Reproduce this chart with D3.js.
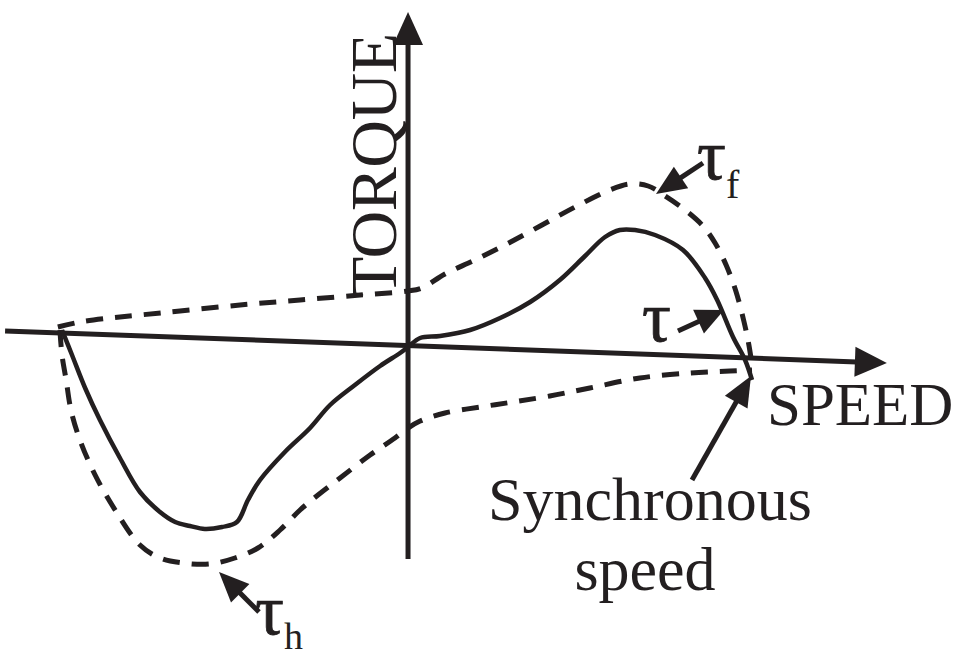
<!DOCTYPE html>
<html>
<head>
<meta charset="utf-8">
<script src="https://cdn.jsdelivr.net/npm/d3@7"></script>
<style>
  html, body { margin: 0; padding: 0; background: #fff; }
  svg { display: block; }
  text { font-family: "Liberation Serif", "Times New Roman", serif; fill: #231f20; }
</style>
</head>
<body>
<div class="chart"></div>
<script>
const WIDTH = 960;
const HEIGHT = 658;
const INK = '#231f20';

// speed: -1 .. 1 (1 = synchronous speed), torque in arbitrary units
const tauSpeed = [-1.0, -0.971, -0.933, -0.89, -0.832, -0.774, -0.716, -0.672, -0.629, -0.586, -0.536, -0.493,
    -0.461, -0.426, -0.354, -0.281, -0.223, -0.151, -0.078, -0.02, 0.003, 0.038, 0.096, 0.183, 0.27, 0.357,
    0.443, 0.516, 0.574, 0.617, 0.661, 0.719, 0.8, 0.864, 0.899, 0.945, 0.98, 1.0];
const tauTorque = [0.095, -0.03, -0.195, -0.355, -0.545, -0.715, -0.815, -0.865, -0.885, -0.9, -0.89, -0.865,
    -0.755, -0.655, -0.515, -0.395, -0.28, -0.18, -0.085, -0.02, 0.01, 0.055, 0.065, 0.095, 0.155, 0.235,
    0.345, 0.465, 0.56, 0.595, 0.595, 0.57, 0.495, 0.355, 0.245, 0.06, -0.055, -0.155];

const tauFSpeed = [-1.012, -0.948, -0.861, -0.774, -0.658, -0.484, -0.31, -0.136, 0.003, 0.043, 0.11, 0.197,
    0.284, 0.386, 0.487, 0.588, 0.646, 0.699, 0.748, 0.806, 0.858, 0.893, 0.925, 0.954, 0.977, 0.991, 1.0];
const tauFTorque = [0.11, 0.135, 0.155, 0.17, 0.19, 0.22, 0.245, 0.27, 0.29, 0.305, 0.375, 0.445,
    0.52, 0.615, 0.71, 0.795, 0.825, 0.815, 0.765, 0.695, 0.615, 0.53, 0.42, 0.285, 0.135, 0.02, -0.08];

const tauHSpeed = [-1.006, -1.0, -0.988, -0.974, -0.948, -0.904, -0.846, -0.774, -0.716, -0.649, -0.571, -0.499,
    -0.432, -0.368, -0.31, -0.258, -0.194, -0.107, -0.035, 0.003, 0.038, 0.11, 0.212, 0.307, 0.414, 0.53,
    0.675, 0.82, 0.936, 1.0];
const tauHTorque = [0.095, -0.03, -0.155, -0.305, -0.455, -0.63, -0.805, -0.98, -1.045, -1.07, -1.075, -1.045,
    -0.995, -0.905, -0.805, -0.73, -0.645, -0.53, -0.445, -0.395, -0.36, -0.32, -0.29, -0.265, -0.235, -0.195,
    -0.145, -0.12, -0.11, -0.105];

// the drawn speed axis is slightly tilted
const speedAxisSpeed = [-1.165, 1.391];
const speedAxisTorque = [0.09, -0.07];
const torqueAxisSpeed = [0.003, 0.003];
const torqueAxisTorque = [-1.05, 1.685];

var xScale = d3.scaleLinear().domain([-1, 1]).range([62, 752]);
var yScale = d3.scaleLinear().domain([-1, 1]).range([549, 149]);

var svg = d3.select('.chart').append('svg')
    .attr('width', WIDTH)
    .attr('height', HEIGHT);

function pts(xs, ys) {
    return xs.map(function (s, i) { return [s, ys[i]]; });
}

var line = d3.line()
    .x(function (d) { return xScale(d[0]); })
    .y(function (d) { return yScale(d[1]); })
    .curve(d3.curveCatmullRom.alpha(0.5));

// arrow head as a triangle, tip at (x2, y2)
function arrow(g, x1, y1, x2, y2, len, half, width) {
    var dx = x2 - x1, dy = y2 - y1;
    var l = Math.sqrt(dx * dx + dy * dy);
    var ux = dx / l, uy = dy / l;
    var bx = x2 - ux * len, by = y2 - uy * len;
    g.append('line')
        .attr('x1', x1).attr('y1', y1)
        .attr('x2', bx + ux * 2).attr('y2', by + uy * 2)
        .attr('stroke', INK)
        .attr('stroke-width', width);
    g.append('path')
        .attr('d', 'M' + x2 + ',' + y2 +
            'L' + (bx - uy * half) + ',' + (by + ux * half) +
            'L' + (bx + uy * half) + ',' + (by - ux * half) + 'Z')
        .attr('fill', INK);
}

// axes
var axesG = svg.append('g');
var sa = pts(speedAxisSpeed, speedAxisTorque);
var ta = pts(torqueAxisSpeed, torqueAxisTorque);
arrow(axesG, xScale(sa[0][0]), yScale(sa[0][1]), xScale(sa[1][0]), yScale(sa[1][1]), 32, 15, 5);
arrow(axesG, xScale(ta[0][0]), yScale(ta[0][1]), xScale(ta[1][0]), yScale(ta[1][1]), 33, 15, 5);

// curves
var curvesG = svg.append('g').attr('fill', 'none').attr('stroke', INK);
curvesG.append('path')
    .attr('d', line(pts(tauFSpeed, tauFTorque)))
    .attr('stroke-width', 5)
    .attr('stroke-dasharray', '17,12');
curvesG.append('path')
    .attr('d', line(pts(tauHSpeed, tauHTorque)))
    .attr('stroke-width', 5)
    .attr('stroke-dasharray', '17,12');
curvesG.append('path')
    .attr('d', line(pts(tauSpeed, tauTorque)))
    .attr('stroke-width', 4.5);

// labels
svg.append('text')
    .attr('transform', 'translate(396,297) rotate(-90)')
    .attr('font-size', 66)
    .attr('textLength', 264)
    .text('TORQUE');

svg.append('text')
    .attr('x', 767).attr('y', 425)
    .attr('font-size', 61)
    .text('SPEED');

svg.append('text')
    .attr('x', 650).attr('y', 520)
    .attr('text-anchor', 'middle')
    .attr('font-size', 62)
    .text('Synchronous');
svg.append('text')
    .attr('x', 645).attr('y', 590)
    .attr('text-anchor', 'middle')
    .attr('font-size', 62)
    .text('speed');

svg.append('text')
    .attr('x', 642).attr('y', 341)
    .attr('font-size', 72)
    .attr('stroke', INK).attr('stroke-width', 0.8)
    .text('τ');

var tf = svg.append('text').attr('x', 697).attr('y', 179).attr('font-size', 72)
    .attr('stroke', INK).attr('stroke-width', 0.8);
tf.append('tspan').text('τ');
tf.append('tspan').attr('font-size', 40).attr('stroke-width', 0).attr('dy', 19).text('f');

var th = svg.append('text').attr('x', 255).attr('y', 634).attr('font-size', 72)
    .attr('stroke', INK).attr('stroke-width', 0.8);
th.append('tspan').text('τ');
th.append('tspan').attr('font-size', 38).attr('stroke-width', 0).attr('dy', 15).text('h');

// annotation arrows
var annG = svg.append('g');
arrow(annG, 678, 331, 724, 310, 28, 13, 5);
arrow(annG, 703, 163, 656, 194, 30, 13, 5);
arrow(annG, 259, 612, 219, 572, 30, 13, 5);
arrow(annG, 692, 480, 751, 376, 30, 13, 5);
</script>
</body>
</html>
